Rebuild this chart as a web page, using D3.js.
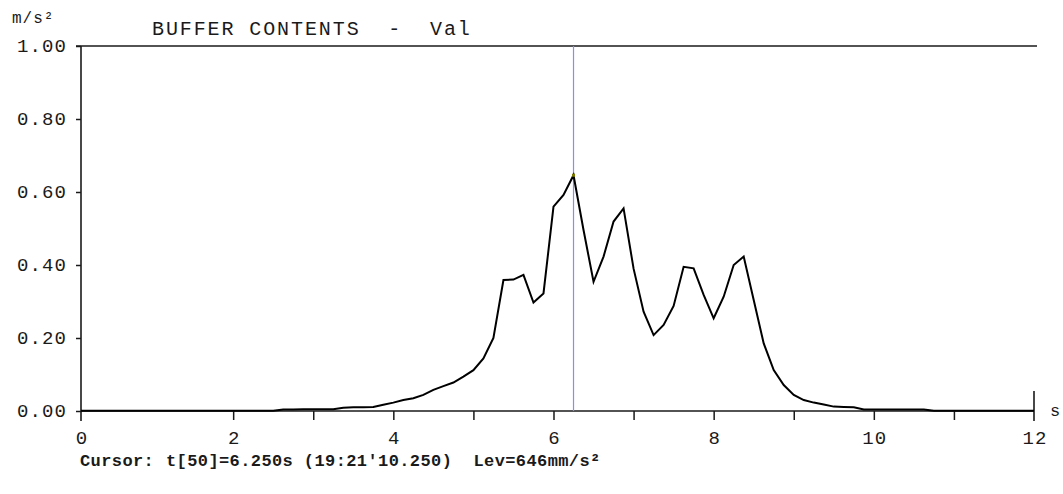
<!DOCTYPE html>
<html>
<head>
<meta charset="utf-8">
<script src="https://cdn.jsdelivr.net/npm/d3@7"></script>
<style>
  body { margin: 0; background: #fff; }
  text { font-family: "Liberation Mono", "Courier New", monospace; fill: #1a1a1a; }
</style>
</head>
<body>
<div id="chart"></div>
<script>
// sample interval of the buffer, in seconds
const dt = 0.125;

// buffer contents, m/s^2, one value per sample (t = 0 .. 12 s)
const values = [
  0.001, 0.001, 0.001, 0.001, 0.001, 0.001, 0.001, 0.001, 0.001, 0.001,
  0.001, 0.001, 0.001, 0.001, 0.001, 0.001, 0.001, 0.001, 0.001, 0.001,
  0.001, 0.004, 0.004, 0.005, 0.005, 0.005, 0.005, 0.009, 0.010, 0.010,
  0.011, 0.017, 0.023, 0.030, 0.035, 0.044, 0.058, 0.068, 0.078, 0.094,
  0.112, 0.144, 0.200, 0.359, 0.360, 0.373, 0.297, 0.322, 0.560, 0.592,
  0.646, 0.496, 0.354, 0.423, 0.519, 0.555, 0.390, 0.272, 0.208, 0.236,
  0.288, 0.395, 0.391, 0.318, 0.254, 0.313, 0.400, 0.423, 0.304, 0.185,
  0.112, 0.071, 0.044, 0.030, 0.023, 0.018, 0.012, 0.011, 0.010, 0.004,
  0.004, 0.004, 0.004, 0.004, 0.004, 0.004, 0.001, 0.001, 0.001, 0.001,
  0.001, 0.001, 0.001, 0.001, 0.001, 0.001, 0.001
];

const yTicks = [0, 0.2, 0.4, 0.6, 0.8, 1.0];
const xTicks = [2, 3, 4, 5, 6, 7, 8, 9, 10, 11];
const xLabels = ["0", "2", "4", "6", "8", "10", "12"];
const xLabelAt = [0.1, 2, 4, 6, 8, 10, 12];   // "0" sits on the axis start

const cursorIndex = 50;
const title = "BUFFER CONTENTS  -  Val";
const yUnit = "m/s²";
const xUnit = "s";
const cursorLabel = "Cursor:";
const cursorText = "t[50]=6.250s (19:21'10.250)  Lev=646mm/s²";

const W = 1063, H = 494;

const svg = d3.select("#chart")
  .append("svg")
  .attr("width", W)
  .attr("height", H);

const x = d3.scaleLinear()
  .domain([0.1, 12])
  .range([81, 1034]);

const y = d3.scaleLinear()
  .domain([0, 1])
  .range([411, 46]);

const ink = "#1a1a1a";

// left axis
svg.append("g")
  .attr("transform", `translate(${x(0.1)},0)`)
  .call(d3.axisLeft(y).tickValues(yTicks).tickSize(5).tickSizeOuter(0)
    .tickPadding(9).tickFormat(d3.format(".2f")))
  .call(g => g.select(".domain").remove())
  .call(g => g.selectAll("line").attr("stroke", ink).attr("stroke-width", 1.5))
  .call(g => g.selectAll("text")
    .attr("font-size", "19px")
    .attr("letter-spacing", "1.1px")
    .attr("dy", "0.3em")
    .attr("fill", ink));

// bottom axis ticks
svg.append("g")
  .attr("transform", `translate(0,${y(0)})`)
  .call(d3.axisBottom(x).tickValues(xTicks).tickSize(9).tickSizeOuter(0).tickFormat(""))
  .call(g => g.select(".domain").remove())
  .call(g => g.selectAll("line").attr("stroke", ink).attr("stroke-width", 1.5));

// x tick labels
svg.selectAll("text.xlab")
  .data(xLabels)
  .join("text")
  .attr("class", "xlab")
  .attr("x", (d, i) => x(xLabelAt[i]) + 1)
  .attr("y", 444)
  .attr("text-anchor", "middle")
  .attr("font-size", "19px")
  .attr("letter-spacing", "1.1px")
  .text(d => d);

// frame: y axis, x axis, top line, right end mark
const frame = svg.append("g")
  .attr("stroke", ink)
  .attr("stroke-width", 1.6)
  .attr("fill", "none");

frame.append("line")
  .attr("x1", x(0.1)).attr("x2", x(0.1))
  .attr("y1", y(1)).attr("y2", y(0) + 10);
frame.append("line")
  .attr("x1", x(0.1)).attr("x2", x(12))
  .attr("y1", y(0)).attr("y2", y(0));
frame.append("line")
  .attr("x1", x(0.1) - 5).attr("x2", x(12) + 3)
  .attr("y1", y(1)).attr("y2", y(1));
frame.append("line")
  .attr("x1", x(12)).attr("x2", x(12))
  .attr("y1", y(0) - 20).attr("y2", y(0) + 10);

// cursor
svg.append("line")
  .attr("x1", x(cursorIndex * dt)).attr("x2", x(cursorIndex * dt))
  .attr("y1", y(1)).attr("y2", y(0))
  .attr("stroke", "#8a8aff")
  .attr("stroke-width", 1.2);

// data curve, clipped to the plot area
svg.append("clipPath")
  .attr("id", "plotClip")
  .append("rect")
  .attr("x", x(0.1))
  .attr("y", y(1))
  .attr("width", x(12) - x(0.1))
  .attr("height", y(0) - y(1) + 2);

const line = d3.line()
  .x((d, i) => x(i * dt))
  .y(d => y(d));

svg.append("path")
  .datum(values)
  .attr("clip-path", "url(#plotClip)")
  .attr("d", line)
  .attr("fill", "none")
  .attr("stroke", "#000")
  .attr("stroke-width", 2)
  .attr("stroke-linejoin", "miter");

// small marker where the cursor meets the curve
svg.append("rect")
  .attr("x", x(cursorIndex * dt) - 1.5)
  .attr("y", y(values[cursorIndex]) - 1.5)
  .attr("width", 3)
  .attr("height", 3)
  .attr("fill", "#7a7a00");

// texts
svg.append("text")
  .attr("x", 152)
  .attr("y", 35)
  .attr("font-size", "20px")
  .attr("letter-spacing", "1.9px")
  .style("white-space", "pre")
  .text(title);

svg.append("text")
  .attr("x", 12)
  .attr("y", 23)
  .attr("font-size", "16px")
  .attr("letter-spacing", "1px")
  .text(yUnit);

svg.append("text")
  .attr("x", 1050)
  .attr("y", 416)
  .attr("font-size", "17px")
  .text(xUnit);

svg.append("text")
  .attr("x", 80)
  .attr("y", 466)
  .attr("font-size", "17px")
  .attr("font-weight", "bold")
  .attr("letter-spacing", "0.4px")
  .text(cursorLabel);

svg.append("text")
  .attr("x", 166)
  .attr("y", 466)
  .attr("font-size", "17px")
  .attr("font-weight", "bold")
  .attr("letter-spacing", "0.4px")
  .style("white-space", "pre")
  .text(cursorText);
</script>
</body>
</html>
